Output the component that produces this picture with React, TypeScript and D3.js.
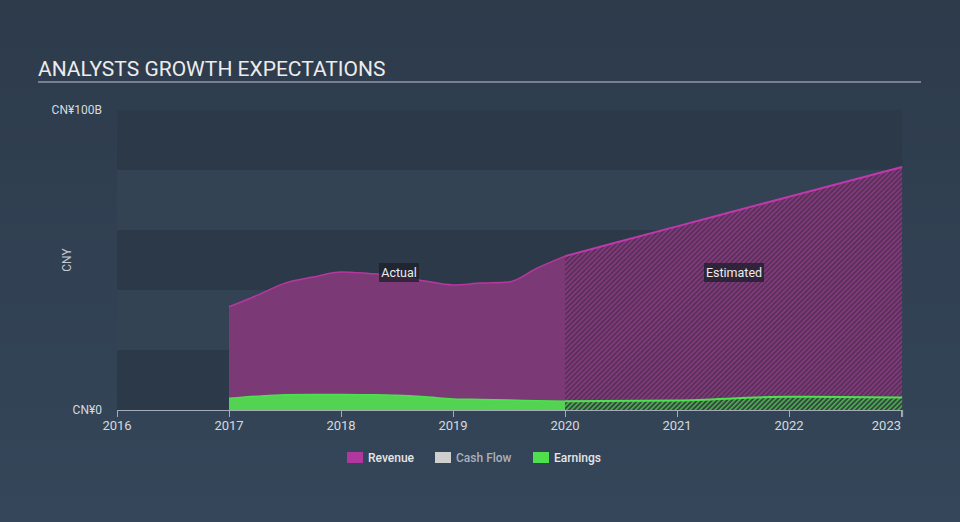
import React from 'react';
import * as d3 from 'd3';

// values in CN¥ billions, x as fractional years
const actualYears = [2017, 2017.25, 2017.5, 2017.75, 2018, 2018.25, 2018.5, 2018.75, 2019, 2019.25, 2019.5, 2019.75, 2020];
const actualRevenue = [34.4, 38.2, 42.3, 44.3, 46.0, 45.5, 44.7, 43.0, 41.7, 42.3, 42.7, 47.3, 51.3];
const actualEarnings = [3.9, 4.6, 5.1, 5.2, 5.2, 5.1, 4.9, 4.4, 3.7, 3.5, 3.3, 3.1, 2.9];

const estYears = [2020, 2021, 2022, 2023.01];
const estRevenue = [51.3, 61.2, 71.1, 81.0];
const estEarnings = [2.9, 3.2, 4.4, 4.2];

const xTicks = [2016, 2017, 2018, 2019, 2020, 2021, 2022, 2023];
const yTickLabels = ['CN¥0', 'CN¥100B'];
const yTickValues = [0, 100];
const bands = [0, 20, 40, 60, 80];

const legendItems = [
  { label: 'Revenue', color: '#b0379f', text: '#e6e6e6' },
  { label: 'Cash Flow', color: '#cfcfcf', text: '#a9b1ba' },
  { label: 'Earnings', color: '#4fe04f', text: '#e6e6e6' },
];

const W = 960;
const H = 522;
const font = 'Roboto, "Noto Sans", sans-serif';

export default function App() {
  const x = d3.scaleLinear().domain([2016, 2023]).range([117, 901]);
  const y = d3.scaleLinear().domain([0, 100]).range([410, 110]);

  const actual = actualYears.map((t, i) => ({ t, r: actualRevenue[i], e: actualEarnings[i] }));
  const est = estYears.map((t, i) => ({ t, r: estRevenue[i], e: estEarnings[i] }));

  const revArea = d3.area<any>().x(d => x(d.t)).y0(y(0)).y1(d => y(d.r)).curve(d3.curveMonotoneX);
  const revLine = d3.line<any>().x(d => x(d.t)).y(d => y(d.r)).curve(d3.curveMonotoneX);
  const earnArea = d3.area<any>().x(d => x(d.t)).y0(y(0)).y1(d => y(d.e)).curve(d3.curveMonotoneX);
  const earnLine = d3.line<any>().x(d => x(d.t)).y(d => y(d.e)).curve(d3.curveMonotoneX);

  const x0 = x(2016);
  const x1 = x(2023.01);

  return (
    <svg width={W} height={H} style={{ position: 'absolute', left: 0, top: 0, display: 'block' }}>
      <defs>
        <linearGradient id="bg" x1="0" y1="0" x2="0" y2="1">
          <stop offset="0%" stopColor="#2d3b4b" />
          <stop offset="100%" stopColor="#35465a" />
        </linearGradient>
        <pattern id="revHatch" patternUnits="userSpaceOnUse" width={3.5} height={3.5} patternTransform="rotate(45)">
          <rect width={3.5} height={3.5} fill="#573158" />
          <rect width={1.6} height={3.5} fill="#86397f" />
        </pattern>
        <pattern id="earnHatch" patternUnits="userSpaceOnUse" width={3.5} height={3.5} patternTransform="rotate(45)">
          <rect width={3.5} height={3.5} fill="#34473f" />
          <rect width={1.6} height={3.5} fill="#4caf50" />
        </pattern>
      </defs>

      <rect width={W} height={H} fill="url(#bg)" />

      {/* title */}
      <text x={38} y={76} fill="#ececec" fontFamily={font} fontSize={21}>ANALYSTS GROWTH EXPECTATIONS</text>
      <line x1={38} x2={921} y1={82} y2={82} stroke="#8f9aa6" strokeWidth={1.5} />

      {/* banded plot background */}
      {bands.map((b, i) => (
        <rect key={b} x={x0} width={x1 - x0} y={y(b + 20)} height={y(b) - y(b + 20)}
          fill={i % 2 === 0 ? '#2c3949' : '#334354'} />
      ))}

      {/* actual */}
      <path d={revArea(actual) || ''} fill="#7b3a75" />
      <path d={revLine(actual) || ''} fill="none" stroke="#b8369f" strokeWidth={1.5} />
      <path d={earnArea(actual) || ''} fill="#52d452" />
      <path d={earnLine(actual) || ''} fill="none" stroke="#4fe04f" strokeWidth={1.5} />

      {/* estimated */}
      <path d={revArea(est) || ''} fill="url(#revHatch)" />
      <path d={revLine(est) || ''} fill="none" stroke="#c038ac" strokeWidth={2} />
      <path d={earnArea(est) || ''} fill="url(#earnHatch)" />
      <path d={earnLine(est) || ''} fill="none" stroke="#4fe04f" strokeWidth={2} />

      {/* labels */}
      {[{ t: 'Actual', cx: 399, w: 40 }, { t: 'Estimated', cx: 734, w: 60 }].map(l => (
        <g key={l.t}>
          <rect x={l.cx - l.w / 2} y={263} width={l.w} height={19} fill="#1b1f2a" opacity={0.75} />
          <text x={l.cx} y={277} textAnchor="middle" fill="#ececec" fontFamily={font} fontSize={12.5}>{l.t}</text>
        </g>
      ))}

      {/* y axis labels */}
      {yTickValues.map((v, i) => (
        <text key={v} x={102} y={y(v) + 4} textAnchor="end" fill="#d6dade" fontFamily={font} fontSize={12}>{yTickLabels[i]}</text>
      ))}
      <text transform={`translate(71,${y(50)}) rotate(-90)`} textAnchor="middle" fill="#c4cbd2" fontFamily={font} fontSize={12}>CNY</text>

      {/* x axis */}
      <line x1={x0} x2={x1} y1={410.5} y2={410.5} stroke="#a3adb8" strokeWidth={1} />
      {xTicks.map((t, i) => (
        <g key={t}>
          <line x1={x(t) + 0.5} x2={x(t) + 0.5} y1={410} y2={417} stroke="#a3adb8" strokeWidth={1} />
          <text x={x(t)} y={430}
            textAnchor={i === xTicks.length - 1 ? 'end' : 'middle'}
            fill="#d6dade" fontFamily={font} fontSize={13}>{t}</text>
        </g>
      ))}
      <line x1={x1 + 0.5} x2={x1 + 0.5} y1={410} y2={417} stroke="#a3adb8" strokeWidth={1} />

      {/* legend */}
      {legendItems.map((it, i) => {
        const lx = [347, 435, 533][i];
        return (
          <g key={it.label}>
            <rect x={lx} y={452} width={16} height={11} fill={it.color} />
            <text x={lx + 21} y={462} fill={it.text} fontFamily={font} fontSize={12} fontWeight={500}>{it.label}</text>
          </g>
        );
      })}
    </svg>
  );
}
